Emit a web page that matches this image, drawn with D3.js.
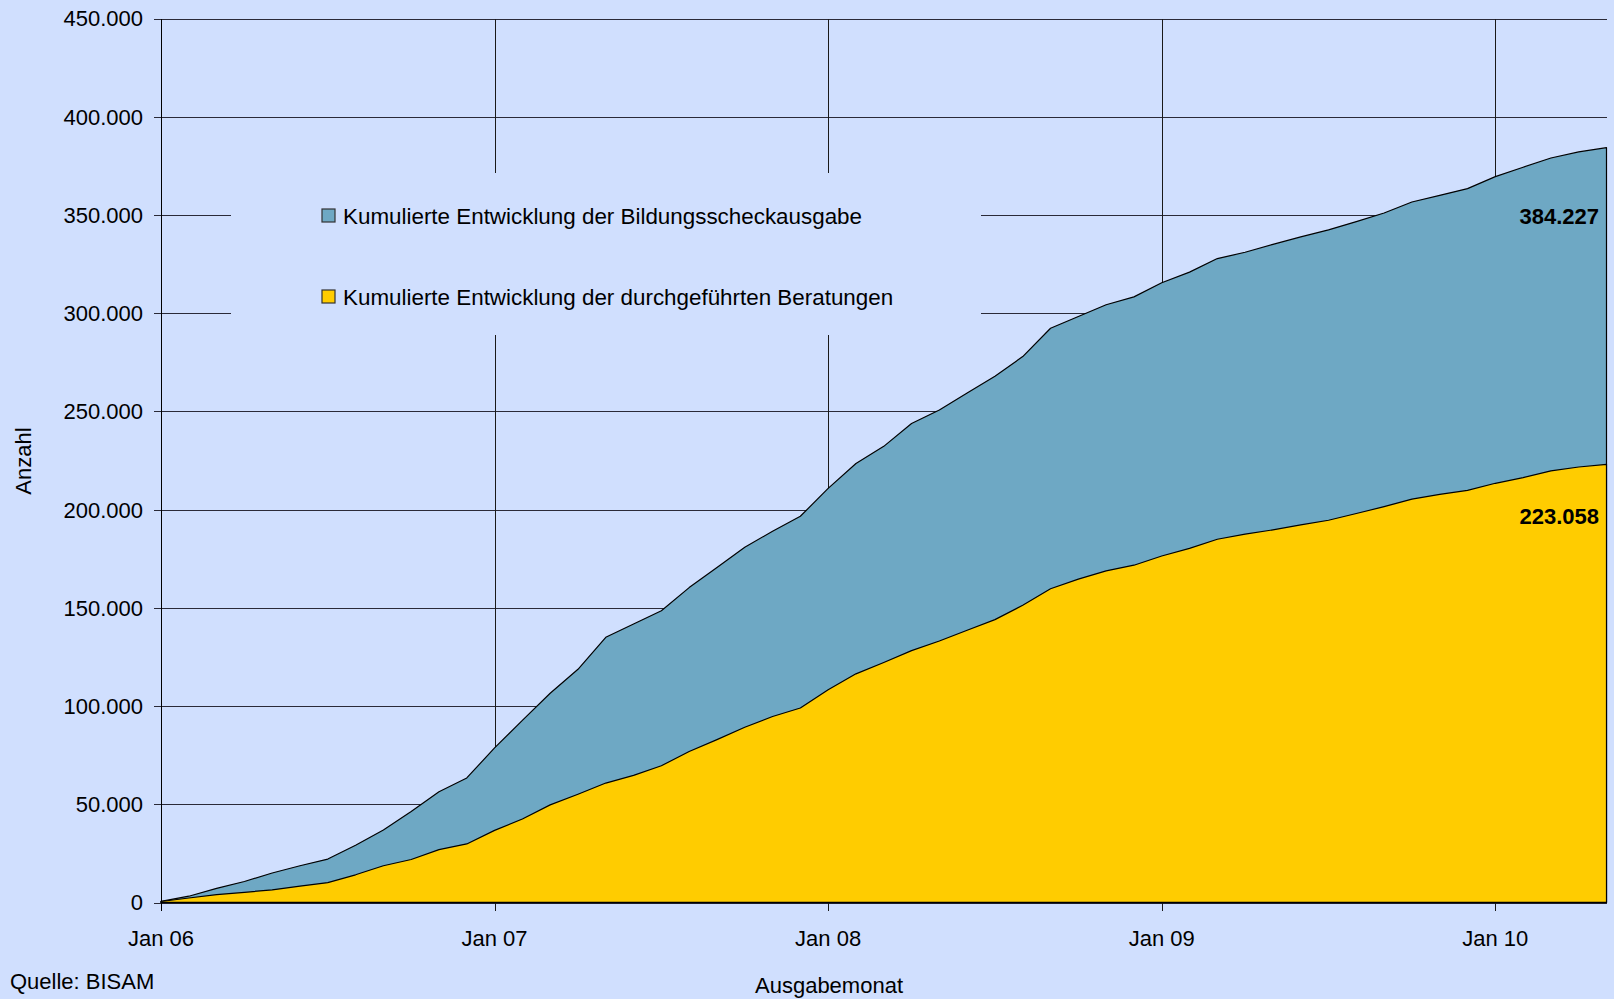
<!DOCTYPE html>
<html><head><meta charset="utf-8">
<script src="https://cdn.jsdelivr.net/npm/d3@7"></script>
<style>html,body{margin:0;padding:0;background:#D0DFFE;}svg{display:block;}</style>
</head><body>
<svg id="chart" width="1614" height="999"></svg>
<script>
// ---- data ----
const months = ["Jan 06","Feb 06","Mär 06","Apr 06","Mai 06","Jun 06","Jul 06","Aug 06","Sep 06","Okt 06","Nov 06","Dez 06",
"Jan 07","Feb 07","Mär 07","Apr 07","Mai 07","Jun 07","Jul 07","Aug 07","Sep 07","Okt 07","Nov 07","Dez 07",
"Jan 08","Feb 08","Mär 08","Apr 08","Mai 08","Jun 08","Jul 08","Aug 08","Sep 08","Okt 08","Nov 08","Dez 08",
"Jan 09","Feb 09","Mär 09","Apr 09","Mai 09","Jun 09","Jul 09","Aug 09","Sep 09","Okt 09","Nov 09","Dez 09",
"Jan 10","Feb 10","Mär 10","Apr 10","Mai 10"];
const bildungsscheck = [600,3200,7200,10700,15000,18700,22100,29100,36900,46300,56400,63400,78700,92700,106500,118700,
135000,141800,148500,160300,170500,180800,189000,196600,210800,223500,232200,243800,250700,259400,267900,277900,
292300,298300,304300,308300,315500,320900,327800,331000,335000,338800,342400,346600,351000,356600,360000,363400,
369500,374300,379000,382100,384227];
const beratungen = [500,2300,4000,5200,6400,8300,10100,14100,18700,21900,26900,29800,36700,42500,49700,55100,
60800,64700,69600,76900,82900,89200,94700,99000,108300,116400,122200,128200,133100,138600,144000,151300,
159700,164600,168800,171700,176400,180300,184900,187500,189700,192200,194600,198000,201500,205300,207800,209800,
213400,216300,219700,221700,223058];
const yTicks = [0,50000,100000,150000,200000,250000,300000,350000,400000,450000];
const xTickLabels = ["Jan 06","Jan 07","Jan 08","Jan 09","Jan 10"];
const seriesNames = ["Kumulierte Entwicklung der Bildungsscheckausgabe","Kumulierte Entwicklung der durchgeführten Beratungen"];
const seriesColors = ["#6EA8C4","#FFCC00"];

// ---- drawing ----
const font = "'Liberation Sans', Arial, sans-serif";
const svg = d3.select("#chart");
const de = d3.formatLocale({decimal:",",thousands:".",grouping:[3],currency:["","€"]});
const fmt = de.format(",");

const x = d3.scaleLinear().domain([0, months.length-1]).range([161, 1606.5]);
const y = d3.scaleLinear().domain([0, 450000]).range([902.5, 18.5]);

svg.append("rect").attr("width",1614).attr("height",999).attr("fill","#D0DFFE");

// horizontal gridlines + y ticks
const gy = svg.append("g").attr("shape-rendering","crispEdges");
gy.selectAll("line").data(yTicks).join("line")
  .attr("x1",154).attr("x2",1606.5)
  .attr("y1",d=>Math.round(y(d))+0.5).attr("y2",d=>Math.round(y(d))+0.5)
  .attr("stroke","#2a2a38").attr("stroke-width",1);

// vertical gridlines at each January
const janIdx = xTickLabels.map(l=>months.indexOf(l));
const gx = svg.append("g").attr("shape-rendering","crispEdges");
gx.selectAll("line.g").data(janIdx.slice(1)).join("line").attr("class","g")
  .attr("x1",d=>Math.round(x(d))+0.5).attr("x2",d=>Math.round(x(d))+0.5)
  .attr("y1",y(450000)).attr("y2",y(0))
  .attr("stroke","#1a1a1a");
gx.selectAll("line.t").data(janIdx).join("line").attr("class","t")
  .attr("x1",d=>Math.round(x(d))+0.5).attr("x2",d=>Math.round(x(d))+0.5)
  .attr("y1",y(0)).attr("y2",y(0)+8)
  .attr("stroke","#1a1a1a");

// legend box (covers gridlines)
svg.append("rect").attr("x",231).attr("y",173).attr("width",750).attr("height",162).attr("fill","#D0DFFE");

// areas
const area = vals => d3.area().x((d,i)=>x(i)).y0(y(0)).y1(d=>y(d)).curve(d3.curveLinear)(vals);
svg.append("path").attr("d",area(bildungsscheck)).attr("fill",seriesColors[0]).attr("stroke","#000").attr("stroke-width",1.2).attr("stroke-linejoin","round");
svg.append("path").attr("d",area(beratungen)).attr("fill",seriesColors[1]).attr("stroke","#000").attr("stroke-width",1.2).attr("stroke-linejoin","round");

// y axis line
svg.append("line").attr("x1",161.5).attr("x2",161.5).attr("y1",y(450000)).attr("y2",y(0)+8)
  .attr("stroke","#000").attr("shape-rendering","crispEdges");
svg.append("line").attr("x1",161).attr("x2",1606.5).attr("y1",y(0)).attr("y2",y(0))
  .attr("stroke","#000").attr("stroke-width",1.5);

// y tick labels
svg.append("g").selectAll("text").data(yTicks).join("text")
  .attr("x",143).attr("y",d=>y(d)).attr("dy","0.36em").attr("text-anchor","end")
  .attr("font-family",font).attr("font-size",22).attr("fill","#000").text(d=>fmt(d));

// x tick labels
svg.append("g").selectAll("text").data(xTickLabels).join("text")
  .attr("x",d=>x(months.indexOf(d))).attr("y",946).attr("text-anchor","middle")
  .attr("font-family",font).attr("font-size",22).attr("fill","#000").text(d=>d);

// axis titles
svg.append("text").attr("x",829).attr("y",993).attr("text-anchor","middle")
  .attr("font-family",font).attr("font-size",22).text("Ausgabemonat");
svg.append("text").attr("transform","translate(31,461) rotate(-90)").attr("text-anchor","middle")
  .attr("font-family",font).attr("font-size",22).text("Anzahl");
svg.append("text").attr("x",10).attr("y",989)
  .attr("font-family",font).attr("font-size",22).text("Quelle: BISAM");

// legend
const leg = svg.append("g");
const legY = [216, 297];
seriesNames.forEach((n,i)=>{
  leg.append("rect").attr("x",322).attr("y",legY[i]-7).attr("width",13).attr("height",13)
    .attr("fill",seriesColors[i]).attr("stroke","#333").attr("stroke-width",1.2);
  leg.append("text").attr("x",343).attr("y",legY[i]+7.5)
    .attr("font-family",font).attr("font-size",22.4).attr("fill","#000").text(n);
});

// end value labels
const last = months.length-1;
svg.append("text").attr("x",1599).attr("y",y(bildungsscheck[last])+76).attr("text-anchor","end")
  .attr("font-family",font).attr("font-size",22).attr("font-weight","bold").text(fmt(bildungsscheck[last]));
svg.append("text").attr("x",1599).attr("y",y(beratungen[last])+60).attr("text-anchor","end")
  .attr("font-family",font).attr("font-size",22).attr("font-weight","bold").text(fmt(beratungen[last]));
</script>
</body></html>
